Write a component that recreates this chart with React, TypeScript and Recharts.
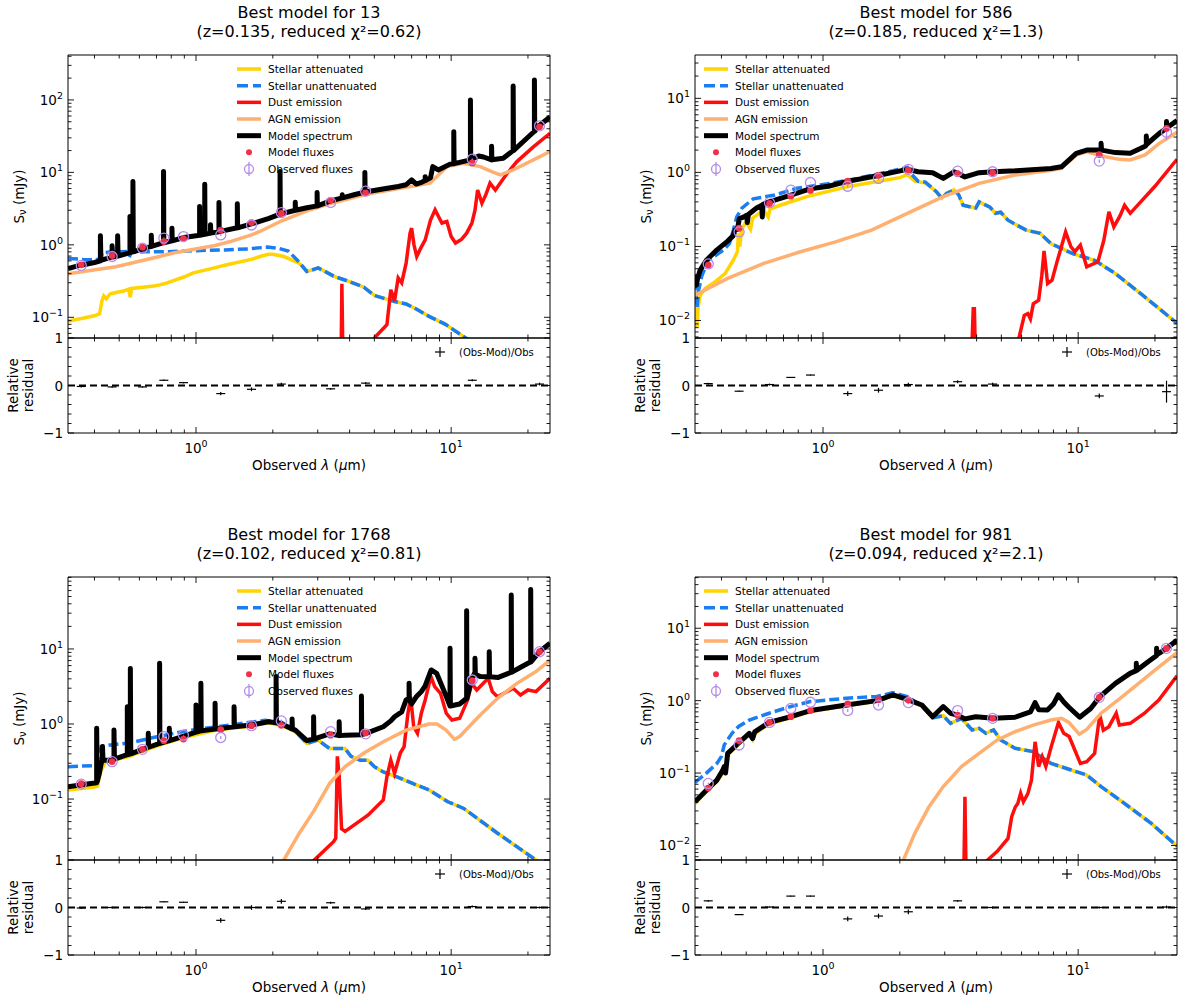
import React from 'react';
import { ComposedChart, Line, Scatter, XAxis, YAxis, ErrorBar, ReferenceLine } from 'recharts';

type P = [number, number];

const FONT = "'DejaVu Sans', 'Liberation Sans', sans-serif";

const COL = {
  att: '#FFD400',
  unatt: '#1A7EF2',
  dust: '#FF0D0D',
  agn: '#FFB070',
  model: '#000000',
  modFlux: '#F0314C',
  obs: '#B58CEB',
};

const PLOT_W = 482;
const MAIN_H = 283;
const RES_H = 95;
const X_DOMAIN: [number, number] = [0.315, 24.4];
const RES_DOMAIN: [number, number] = [-1, 1];
const RES_TICKS = [-1, -0.8, -0.6, -0.4, -0.2, 0, 0.2, 0.4, 0.6, 0.8, 1];

// Filter effective wavelengths (micron): u g r i z J H Ks W1 W2 W3 W4
const filterWl = [0.355, 0.469, 0.617, 0.748, 0.893, 1.25, 1.65, 2.16, 3.37, 4.62, 12.1, 22.2];

// ---------------- Object 13 ----------------
const tlAtt: P[] = [
  [0.315, 0.089], [0.36, 0.097], [0.4, 0.105], [0.419, 0.112], [0.428, 0.17], [0.435, 0.198], [0.445, 0.18],
  [0.46, 0.21], [0.485, 0.22], [0.52, 0.23], [0.545, 0.245], [0.552, 0.19], [0.56, 0.25], [0.62, 0.26],
  [0.684, 0.27], [0.72, 0.28], [0.75, 0.29], [0.896, 0.36], [0.976, 0.41], [1.148, 0.47], [1.32, 0.53],
  [1.648, 0.63], [1.78, 0.69], [1.924, 0.74], [2.0, 0.74], [2.21, 0.69], [2.535, 0.56], [2.717, 0.43],
  [2.85, 0.45], [3.01, 0.48], [3.2, 0.43], [3.46, 0.37], [4.0, 0.31], [4.55, 0.26], [5.0, 0.2], [5.42, 0.184],
  [6.0, 0.165], [6.66, 0.153], [7.3, 0.13], [8.19, 0.103], [9.5, 0.08], [11.2, 0.054], [12.5, 0.042],
];
const tlUnatt: P[] = [
  [0.315, 0.65], [0.36, 0.63], [0.4, 0.62], [0.42, 0.64], [0.43, 0.78], [0.47, 0.8], [0.53, 0.81],
  [0.545, 0.66], [0.56, 0.8], [0.62, 0.8], [0.75, 0.8], [0.9, 0.82], [1.1, 0.84], [1.3, 0.85], [1.6, 0.88],
  [1.9, 0.93], [2.1, 0.9], [2.3, 0.82], [2.535, 0.58], [2.717, 0.43], [2.85, 0.45], [3.01, 0.48], [3.2, 0.43],
  [3.46, 0.37], [4.0, 0.31], [4.55, 0.26], [5.0, 0.2], [5.42, 0.184], [6.0, 0.165], [6.66, 0.153], [7.3, 0.13],
  [8.19, 0.103], [9.5, 0.08], [11.2, 0.054], [12.5, 0.042],
];
const tlDust: P[] = [
  [3.55, 0.01], [3.7, 0.02], [3.73, 0.29], [3.77, 0.02], [3.95, 0.01], [4.6, 0.025], [5.05, 0.054], [5.6, 0.079],
  [5.8, 0.24], [6.0, 0.17], [6.2, 0.35], [6.4, 0.3], [6.66, 0.56], [6.9, 1.45], [7.0, 1.7], [7.15, 1.0],
  [7.33, 0.69], [7.6, 0.9], [7.91, 1.17], [8.3, 2.2], [8.65, 3.04], [8.9, 2.5], [9.2, 2.0], [9.62, 2.1],
  [10.0, 1.3], [10.4, 1.06], [11.0, 1.2], [11.5, 1.45], [12.06, 2.0], [12.4, 3.0], [12.7, 5.7], [13.2, 3.76],
  [13.7, 5.0], [14.2, 7.1], [14.9, 5.7], [16.5, 9.5], [18.1, 14.1], [21.0, 22.5], [24.4, 34.7],
];
const tlAgn: P[] = [
  [0.315, 0.4], [0.485, 0.5], [0.72, 0.69], [0.813, 0.77], [1.188, 0.98], [1.364, 1.11], [1.648, 1.37],
  [1.78, 1.53], [2.17, 2.15], [2.717, 2.95], [3.365, 3.7], [4.64, 5.0], [6.31, 6.05], [8.26, 7.1], [9.0, 9.5],
  [9.62, 12.0], [11.2, 13.4], [13.0, 12.0], [14.5, 10.2], [15.6, 9.24], [17.5, 10.8], [21.0, 14.9], [24.4, 19.4],
];
const tlModel: P[] = [
  [0.315, 0.47], [0.35, 0.52], [0.4, 0.57],
  [0.422, 0.6], [0.422, 1.33], [0.424, 0.61],
  [0.469, 0.68], [0.469, 0.97], [0.471, 0.68],
  [0.493, 0.7], [0.493, 1.33], [0.495, 0.7],
  [0.551, 0.78], [0.551, 2.46], [0.553, 0.79],
  [0.566, 0.8], [0.566, 7.5], [0.568, 0.8],
  [0.617, 0.88],
  [0.668, 0.95], [0.668, 1.36], [0.67, 0.95],
  [0.746, 1.07], [0.746, 10.3], [0.748, 1.07],
  [0.805, 1.14], [0.805, 1.7], [0.807, 1.14],
  [0.896, 1.26],
  [1.033, 1.36], [1.033, 3.38], [1.036, 1.36],
  [1.082, 1.4], [1.082, 6.87], [1.085, 1.4],
  [1.14, 1.45], [1.14, 1.89], [1.143, 1.45],
  [1.23, 1.52], [1.23, 3.84], [1.233, 1.52],
  [1.452, 1.72], [1.452, 3.68], [1.456, 1.72],
  [1.65, 1.95], [1.92, 2.3],
  [2.135, 2.65], [2.135, 10.3], [2.14, 2.65],
  [2.449, 3.0], [2.449, 3.88], [2.455, 3.0],
  [2.72, 3.25],
  [2.983, 3.45], [2.983, 5.27], [2.99, 3.45],
  [3.37, 4.05],
  [3.743, 4.45], [3.743, 4.9], [3.75, 4.45],
  [4.2, 4.95],
  [4.59, 5.35], [4.59, 10.0], [4.6, 5.35],
  [5.4, 5.9], [6.2, 6.4], [6.66, 6.75], [7.0, 7.9], [7.3, 6.9], [7.6, 7.2],
  [7.91, 7.7], [7.91, 8.7], [7.93, 7.7],
  [8.3, 8.4], [8.47, 12.0], [8.9, 10.8], [9.9, 13.0],
  [10.24, 13.2], [10.24, 36.5], [10.27, 13.2],
  [11.9, 14.9], [11.9, 100], [11.93, 14.9],
  [12.82, 16.8], [13.4, 16.3],
  [14.4, 14.9], [14.4, 23], [14.44, 14.9],
  [16.0, 15.7],
  [17.5, 20.0], [17.5, 156], [17.55, 20.0],
  [19.8, 29.6],
  [21.2, 37], [21.2, 189], [21.26, 37],
  [21.9, 42.9], [24.4, 58],
];
const tlObs = [0.52, 0.69, 0.9, 1.24, 1.3, 1.37, 1.88, 2.79, 3.85, 5.5, 15.2, 43.9];
const tlObsErr = [0.01, 0.01, 0.01, 0.02, 0.02, 0.05, 0.08, 0.09, 0.08, 0.12, 0.35, 1.3];
const tlMod = [0.53, 0.71, 0.93, 1.11, 1.22, 1.6, 2.03, 2.71, 4.12, 5.23, 13.5, 42.6];
const tlRes = [-0.02, -0.03, -0.03, 0.11, 0.06, -0.17, -0.08, 0.03, -0.07, 0.05, 0.11, 0.03];
const tlResErr = [0.02, 0.015, 0.015, 0.015, 0.015, 0.035, 0.04, 0.03, 0.02, 0.02, 0.02, 0.03];

// ---------------- Object 586 ----------------
const trAtt: P[] = [
  [0.315, 0.025], [0.319, 0.012], [0.321, 0.008], [0.324, 0.015], [0.33, 0.022], [0.345, 0.027], [0.372, 0.032],
  [0.413, 0.043], [0.445, 0.065], [0.462, 0.085], [0.466, 0.15], [0.472, 0.1], [0.48, 0.17], [0.5, 0.215],
  [0.52, 0.17], [0.53, 0.24], [0.584, 0.31], [0.61, 0.25], [0.62, 0.32], [0.679, 0.36], [0.864, 0.47],
  [1.24, 0.64], [1.55, 0.73], [2.0, 0.85], [2.14, 0.93], [2.29, 0.76], [2.52, 0.72], [2.78, 0.55], [2.92, 0.45],
  [3.05, 0.52], [3.26, 0.58], [3.4, 0.5], [3.54, 0.36], [3.97, 0.33], [4.09, 0.4], [4.51, 0.34], [4.74, 0.28],
  [4.97, 0.29], [5.31, 0.226], [6.25, 0.166], [7.1, 0.15], [7.83, 0.109], [9.52, 0.08], [11.6, 0.065],
  [14.0, 0.043], [17.6, 0.023], [24.4, 0.0092],
];
const trUnatt: P[] = [
  [0.315, 0.035], [0.319, 0.02], [0.321, 0.015], [0.325, 0.025], [0.335, 0.04], [0.355, 0.065], [0.407, 0.089],
  [0.43, 0.11], [0.445, 0.166], [0.459, 0.25], [0.481, 0.33], [0.533, 0.44], [0.64, 0.49], [0.79, 0.61],
  [1.067, 0.71], [1.36, 0.83], [1.88, 1.05], [2.14, 1.17], [2.22, 0.95], [2.36, 0.76], [2.52, 0.74],
  [2.78, 0.55], [2.92, 0.45], [3.05, 0.52], [3.26, 0.58], [3.4, 0.5], [3.54, 0.36], [3.97, 0.33], [4.09, 0.4],
  [4.51, 0.34], [4.74, 0.28], [4.97, 0.29], [5.31, 0.226], [6.25, 0.166], [7.1, 0.15], [7.83, 0.109],
  [9.52, 0.08], [11.6, 0.065], [14.0, 0.043], [17.6, 0.023], [24.4, 0.0092],
];
const trDust: P[] = [
  [3.8, 0.002], [3.88, 0.0144], [3.92, 0.0144], [3.97, 0.002], [5.5, 0.002], [5.86, 0.0058], [6.15, 0.0117],
  [6.35, 0.0124], [6.5, 0.0105], [6.67, 0.0168], [7.0, 0.0188], [7.2, 0.04], [7.35, 0.087], [7.59, 0.0316],
  [7.9, 0.035], [8.23, 0.059], [8.6, 0.1], [8.93, 0.157], [9.37, 0.099], [9.7, 0.085], [10.2, 0.104],
  [10.8, 0.053], [11.95, 0.062], [12.6, 0.12], [13.2, 0.294], [13.8, 0.184], [14.6, 0.26], [15.2, 0.36],
  [16.0, 0.28], [20.0, 0.65], [24.4, 1.5],
];
const trAgn: P[] = [
  [0.315, 0.022], [0.423, 0.037], [0.586, 0.059], [0.81, 0.084], [1.12, 0.115], [1.55, 0.166], [2.14, 0.28],
  [2.96, 0.47], [4.09, 0.71], [5.66, 0.92], [7.83, 1.07], [8.6, 1.13], [9.83, 1.72], [10.8, 1.9], [12.8, 1.63],
  [14.5, 1.5], [16.0, 1.47], [18.3, 1.72], [20.8, 2.47], [24.4, 3.5],
];
const trModel: P[] = [
  [0.315, 0.042], [0.319, 0.03], [0.322, 0.036], [0.33, 0.048], [0.349, 0.065], [0.384, 0.09], [0.423, 0.118],
  [0.445, 0.14], [0.452, 0.166], [0.462, 0.17], [0.47, 0.238], [0.49, 0.25], [0.503, 0.265], [0.505, 0.21],
  [0.51, 0.27], [0.549, 0.33], [0.576, 0.36], [0.578, 0.25], [0.582, 0.37], [0.615, 0.4], [0.743, 0.49],
  [0.89, 0.6], [1.05, 0.65], [1.235, 0.75], [1.626, 0.9], [1.88, 1.0], [2.14, 1.1], [2.36, 1.02], [2.69, 0.99],
  [2.96, 0.83], [3.26, 1.02], [3.6, 0.87], [4.09, 0.99], [4.66, 1.02], [5.66, 1.05], [7.83, 1.13], [8.6, 1.19],
  [9.83, 1.81], [10.8, 2.0], [12.3, 2.0], [12.3, 2.47], [12.35, 2.0], [14.0, 1.85], [16.0, 1.81], [18.3, 2.25],
  [18.5, 2.35], [18.5, 3.1], [18.56, 2.4], [20.8, 3.37], [22.2, 3.94], [22.2, 4.85], [22.27, 4.0], [24.4, 5.0],
];
const trObs = [0.058, 0.157, 0.39, 0.576, 0.73, 0.65, 0.83, 1.1, 1.04, 1.02, 1.42, 3.48];
const trObsErr = [0.001, 0.002, 0.008, 0.006, 0.007, 0.03, 0.04, 0.04, 0.03, 0.03, 0.07, 0.75];
const trMod = [0.056, 0.176, 0.38, 0.478, 0.57, 0.76, 0.91, 1.08, 0.96, 0.99, 1.74, 3.93];
const trRes = [0.04, -0.12, 0.02, 0.17, 0.22, -0.17, -0.1, 0.02, 0.08, 0.03, -0.22, -0.13];
const trResErr = [0.02, 0.01, 0.02, 0.01, 0.01, 0.05, 0.05, 0.04, 0.03, 0.03, 0.05, 0.23];

// ---------------- Object 1768 ----------------
const blAtt: P[] = [
  [0.315, 0.132], [0.4, 0.145], [0.412, 0.149], [0.418, 0.2], [0.425, 0.24], [0.44, 0.31], [0.55, 0.37],
  [0.62, 0.44], [0.75, 0.55], [0.896, 0.66], [1.2, 0.83], [1.648, 0.94], [1.924, 1.04], [2.17, 0.95],
  [2.45, 0.79], [2.72, 0.55], [2.85, 0.58], [3.01, 0.61], [3.34, 0.47], [3.58, 0.47], [3.84, 0.47], [4.05, 0.37],
  [4.4, 0.33], [4.72, 0.33], [5.0, 0.27], [5.42, 0.23], [6.2, 0.195], [7.1, 0.16], [8.2, 0.132], [9.7, 0.092],
  [11.2, 0.075], [15.2, 0.035], [21.5, 0.0154], [24.4, 0.0115],
];
const blUnatt: P[] = [
  [0.315, 0.27], [0.41, 0.28], [0.418, 0.4], [0.425, 0.5], [0.47, 0.53], [0.55, 0.56], [0.68, 0.66], [0.9, 0.8],
  [1.15, 0.9], [1.46, 1.0], [1.86, 1.12], [2.17, 1.05], [2.45, 0.8], [2.72, 0.55], [2.85, 0.58], [3.01, 0.61],
  [3.34, 0.47], [3.58, 0.47], [3.84, 0.47], [4.05, 0.37], [4.4, 0.33], [4.72, 0.33], [5.0, 0.27], [5.42, 0.23],
  [6.2, 0.195], [7.1, 0.16], [8.2, 0.132], [9.7, 0.092], [11.2, 0.075], [15.2, 0.035], [21.5, 0.0154],
  [24.4, 0.0115],
];
const blDust: P[] = [
  [2.8, 0.008], [2.91, 0.0154], [3.46, 0.027], [3.53, 0.03], [3.58, 0.37], [3.64, 0.2], [3.72, 0.04],
  [3.84, 0.037], [4.72, 0.061], [5.42, 0.097], [5.6, 0.198], [5.8, 0.33], [6.0, 0.22], [6.32, 0.41],
  [6.54, 0.5], [6.77, 1.39], [6.94, 2.3], [7.13, 0.92], [7.38, 0.75], [7.64, 1.39], [7.91, 2.09], [8.33, 4.28],
  [8.62, 3.14], [9.08, 2.56], [9.57, 1.39], [10.07, 1.13], [10.8, 1.19], [11.6, 2.09], [12.05, 3.48],
  [12.6, 2.84], [13.97, 4.06], [14.5, 2.7], [15.2, 2.3], [17.5, 2.99], [18.7, 2.44], [20.0, 2.84], [21.5, 2.7],
  [24.4, 4.06],
];
const blAgn: P[] = [
  [2.15, 0.01], [2.21, 0.0154], [2.54, 0.035], [2.91, 0.071], [3.34, 0.162], [3.84, 0.27], [4.55, 0.41],
  [5.42, 0.58], [6.66, 0.83], [8.19, 1.0], [8.8, 1.0], [9.55, 0.83], [10.3, 0.625], [10.8, 0.68], [12.8, 1.25],
  [15.2, 2.2], [18.1, 3.48], [21.5, 5.0], [24.4, 7.1],
];
const blModel: P[] = [
  [0.315, 0.146], [0.394, 0.162],
  [0.408, 0.165], [0.408, 0.875], [0.41, 0.17],
  [0.418, 0.22], [0.425, 0.3],
  [0.43, 0.33], [0.43, 0.5], [0.432, 0.33],
  [0.469, 0.33],
  [0.477, 0.34], [0.477, 0.83], [0.479, 0.34],
  [0.538, 0.39], [0.538, 1.7], [0.54, 0.39],
  [0.553, 0.4], [0.553, 5.5], [0.555, 0.4],
  [0.617, 0.46],
  [0.65, 0.49], [0.65, 0.75], [0.652, 0.49],
  [0.72, 0.55], [0.72, 6.45], [0.722, 0.55],
  [0.786, 0.6], [0.786, 0.875], [0.788, 0.6],
  [0.896, 0.69],
  [1.0, 0.78], [1.0, 1.79], [1.003, 0.78],
  [1.045, 0.81], [1.045, 3.48], [1.048, 0.81],
  [1.188, 0.86], [1.188, 1.89], [1.191, 0.86],
  [1.41, 0.92], [1.41, 1.7], [1.414, 0.92],
  [1.648, 0.97], [1.924, 1.07],
  [2.06, 1.04], [2.06, 4.28], [2.066, 1.04],
  [2.17, 1.0],
  [2.38, 0.86], [2.38, 1.17], [2.386, 0.86],
  [2.45, 0.83], [2.72, 0.6],
  [2.89, 0.63], [2.89, 1.25], [2.898, 0.63],
  [3.01, 0.66], [3.34, 0.74],
  [3.64, 0.7], [3.64, 1.07], [3.65, 0.7],
  [3.84, 0.71],
  [4.45, 0.72], [4.45, 2.36], [4.46, 0.72],
  [4.64, 0.75], [5.42, 0.92], [5.8, 1.1], [6.0, 1.25], [6.4, 1.45], [6.66, 2.09],
  [6.84, 2.2], [6.84, 3.48], [6.86, 2.1],
  [7.0, 1.85], [7.3, 2.3], [7.64, 2.7], [7.9, 3.2], [8.35, 5.25], [8.77, 4.74], [9.4, 2.7],
  [9.9, 1.74], [9.9, 10.2], [9.93, 1.74],
  [10.8, 1.85],
  [11.5, 2.2], [11.5, 32.4], [11.53, 2.2],
  [12.0, 3.86],
  [12.4, 4.9], [12.4, 7.5], [12.44, 4.6],
  [13.0, 4.3],
  [14.1, 4.25], [14.1, 9.2], [14.14, 4.25],
  [15.3, 4.18],
  [17.2, 4.9], [17.2, 52.5], [17.25, 4.9],
  [20.0, 6.44],
  [20.5, 6.7], [20.5, 62], [20.56, 6.7],
  [22.2, 9.2], [24.4, 11.9],
];
const blObs = [0.158, 0.315, 0.46, 0.68, 0.71, 0.66, 0.95, 1.1, 0.79, 0.74, 3.86, 9.2];
const blObsErr = [0.003, 0.006, 0.009, 0.007, 0.007, 0.03, 0.05, 0.05, 0.016, 0.015, 0.08, 0.2];
const blMod = [0.16, 0.315, 0.46, 0.6, 0.63, 0.84, 0.95, 0.96, 0.71, 0.76, 3.78, 9.2];
const blRes = [-0.01, 0.0, 0.0, 0.12, 0.11, -0.27, 0.0, 0.13, 0.1, -0.03, 0.02, 0.0];
const blResErr = [0.02, 0.02, 0.02, 0.01, 0.01, 0.05, 0.05, 0.05, 0.02, 0.02, 0.02, 0.02];

// ---------------- Object 981 ----------------
const brAtt: P[] = [
  [0.315, 0.038], [0.349, 0.055], [0.384, 0.077], [0.405, 0.1], [0.41, 0.12], [0.415, 0.095], [0.423, 0.18],
  [0.467, 0.25], [0.514, 0.34], [0.53, 0.29], [0.54, 0.35], [0.615, 0.48], [0.747, 0.58], [0.893, 0.71],
  [1.235, 0.85], [1.626, 0.98], [1.88, 1.17], [2.14, 1.02], [2.44, 0.85], [2.69, 0.58], [2.96, 0.62],
  [3.16, 0.486], [3.49, 0.57], [3.84, 0.394], [4.09, 0.415], [4.35, 0.354], [4.66, 0.394], [4.97, 0.287],
  [5.66, 0.22], [6.66, 0.198], [7.83, 0.136], [9.2, 0.113], [10.8, 0.094], [12.3, 0.065], [14.9, 0.04],
  [19.4, 0.02], [24.4, 0.0098],
];
const brUnatt: P[] = [
  [0.315, 0.074], [0.349, 0.1], [0.384, 0.136], [0.4, 0.17], [0.41, 0.244], [0.44, 0.354], [0.467, 0.44],
  [0.514, 0.54], [0.615, 0.67], [0.747, 0.83], [0.893, 0.97], [1.235, 1.08], [1.626, 1.14], [1.88, 1.29],
  [2.14, 1.14], [2.44, 0.85], [2.69, 0.58], [2.96, 0.62], [3.16, 0.486], [3.49, 0.57], [3.84, 0.394],
  [4.09, 0.415], [4.35, 0.354], [4.66, 0.394], [4.97, 0.287], [5.66, 0.22], [6.66, 0.198], [7.83, 0.136],
  [9.2, 0.113], [10.8, 0.094], [12.3, 0.065], [14.9, 0.04], [19.4, 0.02], [24.4, 0.0098],
];
const brDust: P[] = [
  [3.5, 0.003], [3.57, 0.006], [3.6, 0.047], [3.63, 0.006], [3.7, 0.003], [4.44, 0.0064], [4.82, 0.0083],
  [5.31, 0.0125], [5.49, 0.025], [5.67, 0.034], [5.8, 0.038], [5.95, 0.0525], [6.1, 0.04], [6.35, 0.052],
  [6.56, 0.08], [6.78, 0.27], [7.0, 0.123], [7.23, 0.169], [7.47, 0.123], [7.84, 0.23], [8.37, 0.5],
  [8.78, 0.354], [9.22, 0.32], [9.52, 0.244], [10.2, 0.136], [10.8, 0.144], [11.6, 0.187], [12.15, 0.634],
  [12.55, 0.39], [13.2, 0.437], [14.1, 0.67], [14.5, 0.46], [16.0, 0.486], [18.2, 0.67], [20.7, 1.02],
  [24.4, 2.2],
];
const brAgn: P[] = [
  [1.95, 0.003], [2.07, 0.0064], [2.29, 0.0147], [2.6, 0.034], [2.96, 0.065], [3.49, 0.123], [4.09, 0.187],
  [4.82, 0.287], [5.66, 0.373], [6.66, 0.46], [7.83, 0.54], [8.6, 0.57], [9.2, 0.5], [10.1, 0.345],
  [10.8, 0.4], [12.3, 0.67], [14.9, 1.14], [17.6, 1.83], [20.8, 2.94], [24.4, 4.6],
];
const brModel: P[] = [
  [0.315, 0.04], [0.349, 0.058], [0.384, 0.08], [0.405, 0.11], [0.41, 0.123], [0.415, 0.1], [0.423, 0.187],
  [0.467, 0.26], [0.514, 0.354], [0.53, 0.3], [0.54, 0.37], [0.615, 0.5], [0.747, 0.6], [0.893, 0.73],
  [1.235, 0.87], [1.626, 1.0], [1.88, 1.2], [2.14, 1.04], [2.44, 0.87], [2.69, 0.6], [2.96, 0.83], [3.16, 0.67],
  [3.37, 0.63], [3.6, 0.56], [3.97, 0.6], [4.66, 0.57], [5.66, 0.59], [6.5, 0.7], [6.78, 0.94], [7.0, 0.75],
  [7.58, 0.74], [8.0, 0.9], [8.36, 1.2], [8.8, 0.95], [9.2, 0.81], [10.14, 0.59], [11.2, 0.78], [12.18, 1.14],
  [14.0, 1.73], [15.97, 2.38], [16.9, 2.6], [16.9, 3.28], [16.95, 2.6], [18.8, 3.45], [20.3, 4.2], [20.3, 5.3],
  [20.36, 4.3], [22.2, 5.28], [24.4, 6.8],
];
const brObs = [0.072, 0.244, 0.5, 0.78, 0.95, 0.73, 0.87, 0.94, 0.73, 0.57, 1.11, 5.28];
const brObsErr = [0.0015, 0.003, 0.006, 0.008, 0.01, 0.035, 0.04, 0.045, 0.015, 0.012, 0.025, 0.15];
const brMod = [0.062, 0.28, 0.5, 0.6, 0.73, 0.9, 1.03, 1.02, 0.63, 0.57, 1.11, 5.25];
const brRes = [0.14, -0.15, 0.01, 0.24, 0.24, -0.24, -0.18, -0.09, 0.14, 0.0, 0.0, 0.01];
const brResErr = [0.02, 0.01, 0.01, 0.01, 0.01, 0.05, 0.05, 0.05, 0.02, 0.02, 0.02, 0.03];

// ---------------- panel setup ----------------
type Panel = {
  id: string; z: string; chi: string;
  left: number; top: number; yDomain: [number, number]; legendX: number;
  att: P[]; unatt: P[]; dust: P[]; agn: P[]; model: P[];
  obs: number[]; obsErr: number[]; mod: number[]; res: number[]; resErr: number[];
};

const panels: Panel[] = [
  { id: '13', z: '0.135', chi: '0.62', left: 68, top: 55, yDomain: [0.0518, 417], legendX: 237,
    att: tlAtt, unatt: tlUnatt, dust: tlDust, agn: tlAgn, model: tlModel,
    obs: tlObs, obsErr: tlObsErr, mod: tlMod, res: tlRes, resErr: tlResErr },
  { id: '586', z: '0.185', chi: '1.3', left: 695, top: 55, yDomain: [0.0058, 38.5], legendX: 704,
    att: trAtt, unatt: trUnatt, dust: trDust, agn: trAgn, model: trModel,
    obs: trObs, obsErr: trObsErr, mod: trMod, res: trRes, resErr: trResErr },
  { id: '1768', z: '0.102', chi: '0.81', left: 68, top: 577, yDomain: [0.0154, 91], legendX: 237,
    att: blAtt, unatt: blUnatt, dust: blDust, agn: blAgn, model: blModel,
    obs: blObs, obsErr: blObsErr, mod: blMod, res: blRes, resErr: blResErr },
  { id: '981', z: '0.094', chi: '2.1', left: 695, top: 577, yDomain: [0.0063, 51], legendX: 704,
    att: brAtt, unatt: brUnatt, dust: brDust, agn: brAgn, model: brModel,
    obs: brObs, obsErr: brObsErr, mod: brMod, res: brRes, resErr: brResErr },
];

const pts = (a: P[]) => a.map(([x, y]) => ({ x, y }));
const fluxPts = (vals: number[], err: number[]) => filterWl.map((x, i) => ({ x, y: vals[i], e: err[i] }));

// 1..9 x 10^k positions inside a log-axis range (major + minor tick marks)
function logTicks([lo, hi]: [number, number]) {
  const out: number[] = [];
  for (let e = -3; e <= 3; e++) {
    for (let m = 1; m <= 9; m++) {
      const v = Number((m * Math.pow(10, e)).toPrecision(3));
      if (v >= lo && v <= hi) out.push(v);
    }
  }
  return out;
}
const isPow10 = (v: number) => {
  const l = Math.log10(v);
  return Math.abs(l - Math.round(l)) < 1e-6;
};

type Side = 'bottom' | 'top' | 'left' | 'right';

// inward-pointing tick marks, labels only on major ticks
function tickRenderer(side: Side, kind: 'log' | 'lin', showLabel: boolean) {
  return (props: any) => {
    const { x, y, payload } = props;
    const v: number = payload.value;
    const major = kind === 'log' ? isPow10(v) : Math.abs(v - Math.round(v)) < 1e-6;
    const len = major ? 6 : 3.5;
    let x2 = x;
    let y2 = y;
    if (side === 'bottom') y2 = y - len;
    else if (side === 'top') y2 = y + len;
    else if (side === 'left') x2 = x + len;
    else x2 = x - len;
    let label: React.ReactNode = null;
    if (showLabel && major) {
      if (kind === 'log') {
        const e = Math.round(Math.log10(v));
        const es = e < 0 ? `\u2212${-e}` : `${e}`;
        if (side === 'bottom') {
          label = (
            <text x={x} y={y + 20} textAnchor="middle" fontSize={13.5} fontFamily={FONT} fill="#000">
              10<tspan dy={-6} fontSize={9.5}>{es}</tspan>
            </text>
          );
        } else {
          label = (
            <text x={x - 5} y={y + 5} textAnchor="end" fontSize={13.5} fontFamily={FONT} fill="#000">
              10<tspan dy={-6} fontSize={9.5}>{es}</tspan>
            </text>
          );
        }
      } else {
        label = (
          <text x={x - 5} y={y + 5} textAnchor="end" fontSize={13.5} fontFamily={FONT} fill="#000">
            {v < 0 ? `\u2212${-v}` : `${v}`}
          </text>
        );
      }
    }
    return (
      <g>
        <line x1={x} y1={y} x2={x2} y2={y2} stroke="#000" strokeWidth={0.9} />
        {label}
      </g>
    );
  };
}

const axisLine = { stroke: '#000', strokeWidth: 1 };

function MainChart({ p }: { p: Panel }) {
  const xt = logTicks(X_DOMAIN);
  const yt = logTicks(p.yDomain);
  const common = { isAnimationActive: false, dot: false, activeDot: false, type: 'linear' as const, xAxisId: 'b', yAxisId: 'l', dataKey: 'y' };
  return (
    <div style={{ position: 'absolute', left: p.left - 60, top: p.top - 10 }}>
      <ComposedChart width={PLOT_W + 70} height={MAIN_H + 20} margin={{ top: 0, right: 0, bottom: 0, left: 0 }}>
        <XAxis xAxisId="b" type="number" dataKey="x" scale="log" domain={X_DOMAIN} allowDataOverflow
          ticks={xt} interval={0} height={10} tickSize={0} tickMargin={0} tickLine={false} axisLine={axisLine}
          tick={tickRenderer('bottom', 'log', false)} />
        <XAxis xAxisId="t" orientation="top" type="number" dataKey="x" scale="log" domain={X_DOMAIN} allowDataOverflow
          ticks={xt} interval={0} height={10} tickSize={0} tickMargin={0} tickLine={false} axisLine={axisLine}
          tick={tickRenderer('top', 'log', false)} />
        <YAxis yAxisId="l" type="number" dataKey="y" scale="log" domain={p.yDomain} allowDataOverflow
          ticks={yt} interval={0} width={60} tickSize={0} tickMargin={0} tickLine={false} axisLine={axisLine}
          tick={tickRenderer('left', 'log', true)} />
        <YAxis yAxisId="r" orientation="right" type="number" dataKey="y" scale="log" domain={p.yDomain} allowDataOverflow
          ticks={yt} interval={0} width={10} tickSize={0} tickMargin={0} tickLine={false} axisLine={axisLine}
          tick={tickRenderer('right', 'log', false)} />
        <Line {...common} data={pts(p.att)} stroke={COL.att} strokeWidth={3.5} />
        <Line {...common} data={pts(p.unatt)} stroke={COL.unatt} strokeWidth={3.5} strokeDasharray="10 4" />
        <Line {...common} data={pts(p.dust)} stroke={COL.dust} strokeWidth={3.5} />
        <Line {...common} data={pts(p.agn)} stroke={COL.agn} strokeWidth={3.5} />
        <Line {...common} data={pts(p.model)} stroke={COL.model} strokeWidth={5} strokeLinejoin="round" />
        <Scatter xAxisId="b" yAxisId="l" dataKey="y" data={fluxPts(p.mod, p.mod.map(() => 0))} isAnimationActive={false}
          shape={(s: any) => <circle cx={s.cx} cy={s.cy} r={3.4} fill={COL.modFlux} />} />
        <Scatter xAxisId="b" yAxisId="l" dataKey="y" data={fluxPts(p.obs, p.obsErr)} isAnimationActive={false}
          shape={(s: any) => <circle cx={s.cx} cy={s.cy} r={5} fill="none" stroke={COL.obs} strokeWidth={1.3} />}>
          <ErrorBar dataKey="e" direction="y" width={0} stroke={COL.obs} strokeWidth={1.3} />
        </Scatter>
      </ComposedChart>
    </div>
  );
}

function ResidualChart({ p }: { p: Panel }) {
  const xt = logTicks(X_DOMAIN);
  const resTop = p.top + MAIN_H;
  return (
    <div style={{ position: 'absolute', left: p.left - 60, top: resTop - 10 }}>
      <ComposedChart width={PLOT_W + 70} height={RES_H + 55} margin={{ top: 0, right: 0, bottom: 0, left: 0 }}>
        <XAxis xAxisId="b" type="number" dataKey="x" scale="log" domain={X_DOMAIN} allowDataOverflow
          ticks={xt} interval={0} height={45} tickSize={0} tickMargin={0} tickLine={false} axisLine={axisLine}
          tick={tickRenderer('bottom', 'log', true)} />
        <XAxis xAxisId="t" orientation="top" type="number" dataKey="x" scale="log" domain={X_DOMAIN} allowDataOverflow
          ticks={xt} interval={0} height={10} tickSize={0} tickMargin={0} tickLine={false} axisLine={axisLine}
          tick={tickRenderer('top', 'log', false)} />
        <YAxis yAxisId="l" type="number" dataKey="y" domain={RES_DOMAIN} allowDataOverflow
          ticks={RES_TICKS} interval={0} width={60} tickSize={0} tickMargin={0} tickLine={false} axisLine={axisLine}
          tick={tickRenderer('left', 'lin', true)} />
        <YAxis yAxisId="r" orientation="right" type="number" dataKey="y" domain={RES_DOMAIN} allowDataOverflow
          ticks={RES_TICKS} interval={0} width={10} tickSize={0} tickMargin={0} tickLine={false} axisLine={axisLine}
          tick={tickRenderer('right', 'lin', false)} />
        <ReferenceLine xAxisId="b" yAxisId="l" y={0} stroke="#000" strokeWidth={1.8} strokeDasharray="7 4" />
        <Scatter xAxisId="b" yAxisId="l" dataKey="y" data={fluxPts(p.res, p.resErr)} isAnimationActive={false}
          shape={(s: any) => <line x1={s.cx - 4.5} y1={s.cy} x2={s.cx + 4.5} y2={s.cy} stroke="#000" strokeWidth={1.2} />}>
          <ErrorBar dataKey="e" direction="y" width={0} stroke="#000" strokeWidth={1.2} />
        </Scatter>
      </ComposedChart>
    </div>
  );
}

const legendRows = [
  { label: 'Stellar attenuated', kind: 'line', color: COL.att, w: 3.5, dash: undefined as string | undefined },
  { label: 'Stellar unattenuated', kind: 'line', color: COL.unatt, w: 3.5, dash: '11 5' },
  { label: 'Dust emission', kind: 'line', color: COL.dust, w: 3.5, dash: undefined },
  { label: 'AGN emission', kind: 'line', color: COL.agn, w: 3.5, dash: undefined },
  { label: 'Model spectrum', kind: 'line', color: COL.model, w: 5, dash: undefined },
  { label: 'Model fluxes', kind: 'dot', color: COL.modFlux, w: 0, dash: undefined },
  { label: 'Observed fluxes', kind: 'obs', color: COL.obs, w: 0, dash: undefined },
];

function PanelText({ p }: { p: Panel }) {
  const cx = p.left + PLOT_W / 2;
  const resTop = p.top + MAIN_H;
  const right = p.left + PLOT_W;
  const t = { fontFamily: FONT, fill: '#000' };
  return (
    <g>
      <text x={cx} y={p.top - 43} textAnchor="middle" dominantBaseline="central" fontSize={16} {...t}>
        Best model for {p.id}
      </text>
      <text x={cx} y={p.top - 24} textAnchor="middle" dominantBaseline="central" fontSize={16} {...t}>
        (z={p.z}, reduced χ²={p.chi})
      </text>
      <text transform={`translate(${p.left - 49}, ${p.top + MAIN_H / 2}) rotate(-90)`} textAnchor="middle"
        dominantBaseline="central" fontSize={13.5} {...t}>
        S<tspan dy={3} fontSize={10}>ν</tspan><tspan dy={-3}> (mJy)</tspan>
      </text>
      <text transform={`translate(${p.left - 55}, ${resTop + RES_H / 2}) rotate(-90)`} textAnchor="middle"
        dominantBaseline="central" fontSize={13.5} {...t}>Relative</text>
      <text transform={`translate(${p.left - 40}, ${resTop + RES_H / 2}) rotate(-90)`} textAnchor="middle"
        dominantBaseline="central" fontSize={13.5} {...t}>residual</text>
      <text x={cx} y={resTop + 127} textAnchor="middle" dominantBaseline="central" fontSize={13.5} {...t}>
        Observed <tspan fontStyle="italic">λ</tspan> (<tspan fontStyle="italic">μ</tspan>m)
      </text>
      {legendRows.map((r, i) => {
        const y = p.top + 14 + i * 16.67;
        const lx = p.legendX;
        const mid = lx + 12;
        let sym: React.ReactNode;
        if (r.kind === 'line') {
          sym = <line x1={lx} y1={y} x2={lx + 24} y2={y} stroke={r.color} strokeWidth={r.w} strokeDasharray={r.dash} />;
        } else if (r.kind === 'dot') {
          sym = <circle cx={mid} cy={y} r={3} fill={r.color} />;
        } else {
          sym = (
            <g stroke={r.color} strokeWidth={1.3} fill="none">
              <line x1={mid} y1={y - 7} x2={mid} y2={y + 7} />
              <circle cx={mid} cy={y} r={4.5} />
            </g>
          );
        }
        return (
          <g key={r.label}>
            {sym}
            <text x={lx + 31} y={y} dominantBaseline="central" fontSize={10.5} {...t}>{r.label}</text>
          </g>
        );
      })}
      <g stroke="#000" strokeWidth={1.2}>
        <line x1={right - 115} y1={resTop + 14} x2={right - 105} y2={resTop + 14} />
        <line x1={right - 110} y1={resTop + 9} x2={right - 110} y2={resTop + 19} />
      </g>
      <text x={right - 91} y={resTop + 14} dominantBaseline="central" fontSize={10} {...t}>(Obs-Mod)/Obs</text>
    </g>
  );
}

export default function App() {
  return (
    <div style={{ position: 'absolute', left: 0, top: 0, width: 1183, height: 1000, background: '#fff', overflow: 'hidden' }}>
      {panels.map((p) => (
        <React.Fragment key={p.id}>
          <MainChart p={p} />
          <ResidualChart p={p} />
        </React.Fragment>
      ))}
      <svg width={1183} height={1000} style={{ position: 'absolute', left: 0, top: 0, pointerEvents: 'none' }}>
        {panels.map((p) => <PanelText key={p.id} p={p} />)}
      </svg>
    </div>
  );
}
